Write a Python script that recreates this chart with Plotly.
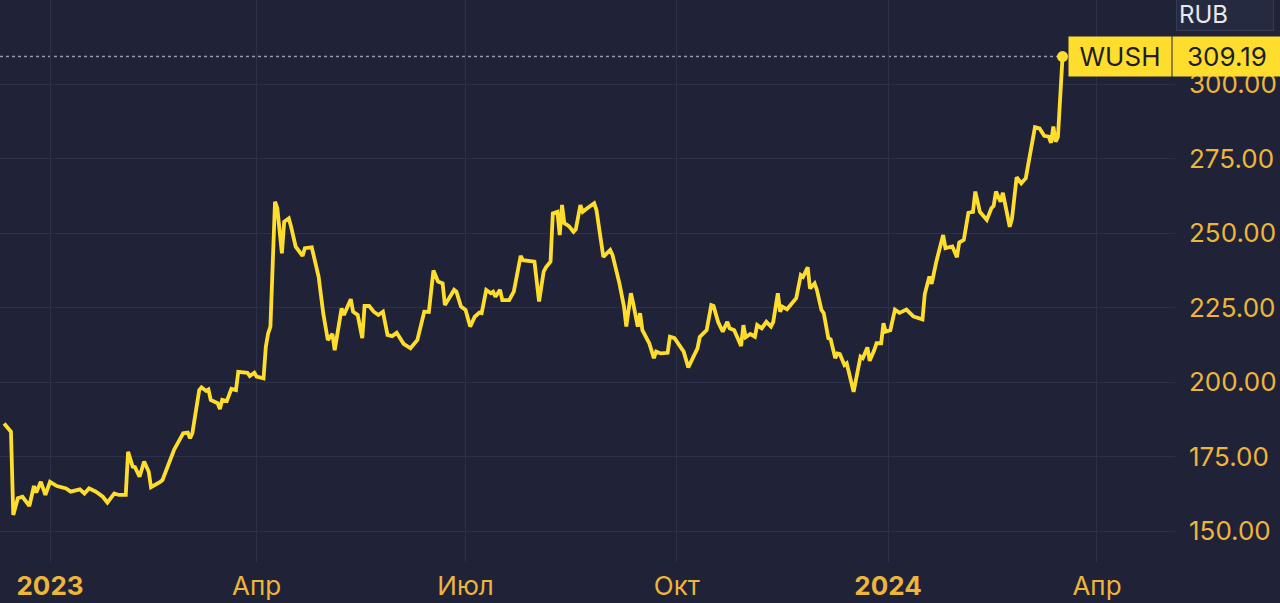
import plotly.graph_objects as go

# ---- data ----
dates = [
    "2022-12-12", "2022-12-15", "2022-12-16", "2022-12-18", "2022-12-20", "2022-12-23",
    "2022-12-25", "2022-12-26", "2022-12-28", "2022-12-30", "2023-01-01", "2023-01-04",
    "2023-01-08", "2023-01-10", "2023-01-14", "2023-01-16", "2023-01-18", "2023-01-21",
    "2023-01-24", "2023-01-26", "2023-01-29", "2023-01-31", "2023-02-03", "2023-02-04",
    "2023-02-06", "2023-02-07", "2023-02-09", "2023-02-11", "2023-02-13", "2023-02-14",
    "2023-02-18", "2023-02-19", "2023-02-24", "2023-02-28", "2023-03-02", "2023-03-03",
    "2023-03-04", "2023-03-07", "2023-03-08", "2023-03-10", "2023-03-11", "2023-03-12",
    "2023-03-15", "2023-03-16", "2023-03-17", "2023-03-19", "2023-03-21", "2023-03-23",
    "2023-03-24", "2023-03-28", "2023-03-29", "2023-03-31", "2023-04-01", "2023-04-04",
    "2023-04-05", "2023-04-06", "2023-04-07", "2023-04-09", "2023-04-10", "2023-04-12",
    "2023-04-13", "2023-04-15", "2023-04-16", "2023-04-18", "2023-04-21", "2023-04-22",
    "2023-04-25", "2023-04-28", "2023-04-30", "2023-05-02", "2023-05-04", "2023-05-05",
    "2023-05-08", "2023-05-09", "2023-05-12", "2023-05-13", "2023-05-15", "2023-05-17",
    "2023-05-18", "2023-05-20", "2023-05-22", "2023-05-24", "2023-05-26", "2023-05-28",
    "2023-05-30", "2023-06-01", "2023-06-04", "2023-06-07", "2023-06-10", "2023-06-13",
    "2023-06-15", "2023-06-17", "2023-06-19", "2023-06-21", "2023-06-22", "2023-06-26",
    "2023-06-27", "2023-06-29", "2023-07-01", "2023-07-03", "2023-07-05", "2023-07-07",
    "2023-07-08", "2023-07-10", "2023-07-12", "2023-07-13", "2023-07-14", "2023-07-16",
    "2023-07-17", "2023-07-20", "2023-07-22", "2023-07-23", "2023-07-25", "2023-07-26",
    "2023-07-31", "2023-08-02", "2023-08-04", "2023-08-05", "2023-08-07", "2023-08-08",
    "2023-08-10", "2023-08-11", "2023-08-12", "2023-08-13", "2023-08-15", "2023-08-17",
    "2023-08-18", "2023-08-20", "2023-08-21", "2023-08-23", "2023-08-26", "2023-08-27",
    "2023-08-30", "2023-09-02", "2023-09-03", "2023-09-06", "2023-09-08", "2023-09-09",
    "2023-09-11", "2023-09-12", "2023-09-14", "2023-09-15", "2023-09-16", "2023-09-19",
    "2023-09-21", "2023-09-22", "2023-09-24", "2023-09-27", "2023-09-28", "2023-09-30",
    "2023-10-04", "2023-10-06", "2023-10-08", "2023-10-10", "2023-10-11", "2023-10-14",
    "2023-10-16", "2023-10-17", "2023-10-19", "2023-10-21", "2023-10-23", "2023-10-24",
    "2023-10-26", "2023-10-29", "2023-10-30", "2023-10-31", "2023-11-02", "2023-11-04",
    "2023-11-05", "2023-11-07", "2023-11-09", "2023-11-11", "2023-11-12", "2023-11-14",
    "2023-11-15", "2023-11-16", "2023-11-18", "2023-11-20", "2023-11-22", "2023-11-24",
    "2023-11-25", "2023-11-27", "2023-11-28", "2023-11-30", "2023-12-01", "2023-12-03",
    "2023-12-04", "2023-12-06", "2023-12-07", "2023-12-09", "2023-12-10", "2023-12-11",
    "2023-12-13", "2023-12-14", "2023-12-17", "2023-12-20", "2023-12-21", "2023-12-23",
    "2023-12-24", "2023-12-26", "2023-12-27", "2023-12-29", "2023-12-30", "2023-12-31",
    "2024-01-02", "2024-01-04", "2024-01-06", "2024-01-09", "2024-01-12", "2024-01-16",
    "2024-01-17", "2024-01-19", "2024-01-20", "2024-01-22", "2024-01-25", "2024-01-26",
    "2024-01-29", "2024-01-31", "2024-02-01", "2024-02-03", "2024-02-05", "2024-02-07",
    "2024-02-08", "2024-02-10", "2024-02-13", "2024-02-15", "2024-02-16", "2024-02-17",
    "2024-02-19", "2024-02-20", "2024-02-21", "2024-02-23", "2024-02-24", "2024-02-26",
    "2024-02-28", "2024-03-01", "2024-03-02", "2024-03-05", "2024-03-07", "2024-03-09",
    "2024-03-11", "2024-03-12", "2024-03-13", "2024-03-14", "2024-03-15", "2024-03-17",
]
prices = [
    186.1, 183.3, 155.4, 161.0, 161.5, 158.4,
    165.1, 162.9, 166.5, 162.1, 166.5, 165.1,
    164.3, 163.2, 164.0, 162.6, 164.3, 163.2,
    161.5, 159.5, 162.6, 162.1, 162.1, 176.6,
    171.6, 171.4, 168.2, 173.3, 169.9, 164.7,
    166.5, 167.1, 177.2, 182.8, 183.0, 181.1,
    182.8, 197.3, 198.2, 197.0, 197.5, 194.0,
    192.9, 190.9, 194.0, 193.6, 197.7, 197.3,
    203.4, 203.1, 202.0, 203.1, 201.8, 201.2,
    211.8, 216.3, 218.6, 260.5, 258.3, 243.2,
    253.8, 254.9, 252.1, 245.4, 242.3, 244.9,
    245.2, 235.3, 223.1, 214.1, 216.1, 210.7,
    224.7, 222.5, 227.8, 223.6, 222.5, 214.7,
    225.5, 225.5, 223.6, 222.5, 223.6, 215.8,
    215.4, 216.5, 212.8, 211.3, 214.1, 223.6,
    223.5, 237.4, 233.7, 233.1, 225.8, 230.9,
    230.3, 225.3, 224.2, 218.6, 221.9, 223.3,
    223.1, 230.9, 229.8, 230.3, 228.6, 230.9,
    227.5, 227.5, 230.3, 234.2, 242.3, 240.9,
    240.4, 227.0, 237.0, 238.5, 240.4, 256.6,
    257.1, 249.3, 259.4, 253.3, 252.3, 250.4,
    251.2, 259.4, 257.1, 258.3, 260.0, 257.7,
    242.0, 244.3, 242.6, 233.1, 225.3, 218.6,
    229.8, 226.4, 218.6, 223.1, 217.4, 213.0,
    208.0, 210.2, 209.6, 209.8, 215.2, 214.7,
    210.2, 204.9, 208.0, 211.3, 215.1, 217.4,
    225.8, 225.5, 220.1, 216.9, 220.2, 218.0,
    217.4, 212.1, 219.1, 215.0, 216.1, 215.2,
    219.1, 218.0, 220.2, 218.6, 220.2, 229.8,
    223.6, 225.3, 224.4, 226.4, 228.1, 235.9,
    235.3, 238.5, 231.4, 233.1, 230.9, 224.2,
    223.1, 214.7, 214.3, 208.0, 209.6, 209.4,
    205.7, 206.3, 196.7, 208.5, 208.0, 211.6,
    207.1, 210.7, 213.0, 213.0, 219.7, 216.9,
    217.4, 224.3, 223.2, 224.3, 222.0, 221.0,
    229.5, 235.4, 232.9, 240.3, 249.3, 244.9,
    245.5, 241.9, 246.8, 247.7, 256.8, 257.1,
    263.9, 257.1, 254.4, 258.3, 259.1, 263.9,
    260.5, 263.5, 260.0, 252.1, 254.9, 268.7,
    266.7, 268.4, 272.8, 285.5, 285.1, 282.6,
    282.3, 280.3, 285.7, 280.6, 282.3, 309.19,
]
ticker = "WUSH"
currency = "RUB"
x_tick_dates = ["2023-01-01", "2023-04-01", "2023-07-01", "2023-10-01", "2024-01-01", "2024-04-01"]
x_tick_text = ["<b>2023</b>", "Апр", "Июл", "Окт", "<b>2024</b>", "Апр"]
y_ticks = [150, 175, 200, 225, 250, 275, 300]
y_tick_text = [f"{v:.2f}" for v in y_ticks]

# ---- styling ----
BG = "#202338"
GRID = "#2c3049"
GOLD = "#EDB53A"
YELLOW = "#FFDD2D"
FONT = "Inter"

x_range = ["2022-12-10 05:17", "2024-05-04 23:30"]
y_range = [139.6, 328.19]

fig = go.Figure()
fig.add_trace(go.Scatter(
    x=dates, y=prices, mode="lines",
    line=dict(color=YELLOW, width=3.8),
    hoverinfo="skip", showlegend=False,
))
fig.add_trace(go.Scatter(
    x=[dates[-1]], y=[prices[-1]], mode="markers",
    marker=dict(color=YELLOW, size=11),
    hoverinfo="skip", showlegend=False,
))

fig.add_shape(type="line", xref="x", yref="y",
              x0=x_range[0], x1=dates[-1], y0=prices[-1], y1=prices[-1],
              line=dict(color="rgba(190,195,210,0.75)", width=1.5, dash="dot"),
              layer="below")

fig.add_annotation(xref="x", yref="y", x=dates[-1], y=prices[-1],
                   text=ticker, showarrow=False, xanchor="left", yanchor="middle",
                   xshift=5, width=100, height=37, bgcolor=YELLOW,
                   font=dict(family=FONT, size=26, color="#1b1d2b"))
fig.add_annotation(xref="paper", yref="y", x=1, y=prices[-1],
                   text=f"{prices[-1]:.2f}", showarrow=False, xanchor="left", yanchor="middle",
                   xshift=-3, width=106, height=37, bgcolor=YELLOW,
                   font=dict(family=FONT, size=26, color="#1b1d2b"))
fig.add_annotation(xref="paper", yref="paper", x=1, y=1,
                   text=currency, showarrow=False, xanchor="left", yanchor="top",
                   xshift=1, yshift=3, width=92, height=28, align="left",
                   bgcolor="#262a40", bordercolor="#363b55", borderwidth=1, borderpad=2,
                   font=dict(family=FONT, size=24, color="#e6e8ef"))

fig.update_layout(
    width=1280, height=603,
    margin=dict(l=0, r=105, t=0, b=41),
    paper_bgcolor=BG, plot_bgcolor=BG,
    font=dict(family=FONT),
    xaxis=dict(
        type="date", range=x_range,
        tickvals=x_tick_dates, ticktext=x_tick_text,
        showgrid=True, gridcolor=GRID, gridwidth=1,
        zeroline=False, showline=False, ticks="",
        tickfont=dict(family=FONT, size=26, color=GOLD),
        ticklabelstandoff=6,
        fixedrange=True,
    ),
    yaxis=dict(
        side="right", range=y_range,
        tickvals=y_ticks, ticktext=y_tick_text,
        showgrid=True, gridcolor=GRID, gridwidth=1,
        zeroline=False, showline=False, ticks="",
        tickfont=dict(family=FONT, size=26, color=GOLD),
        ticklabelstandoff=13,
        fixedrange=True,
    ),
)

fig.write_html("out.html", config={"displayModeBar": False},
               post_script="document.body.style.margin='0';document.body.style.overflow='hidden';")
